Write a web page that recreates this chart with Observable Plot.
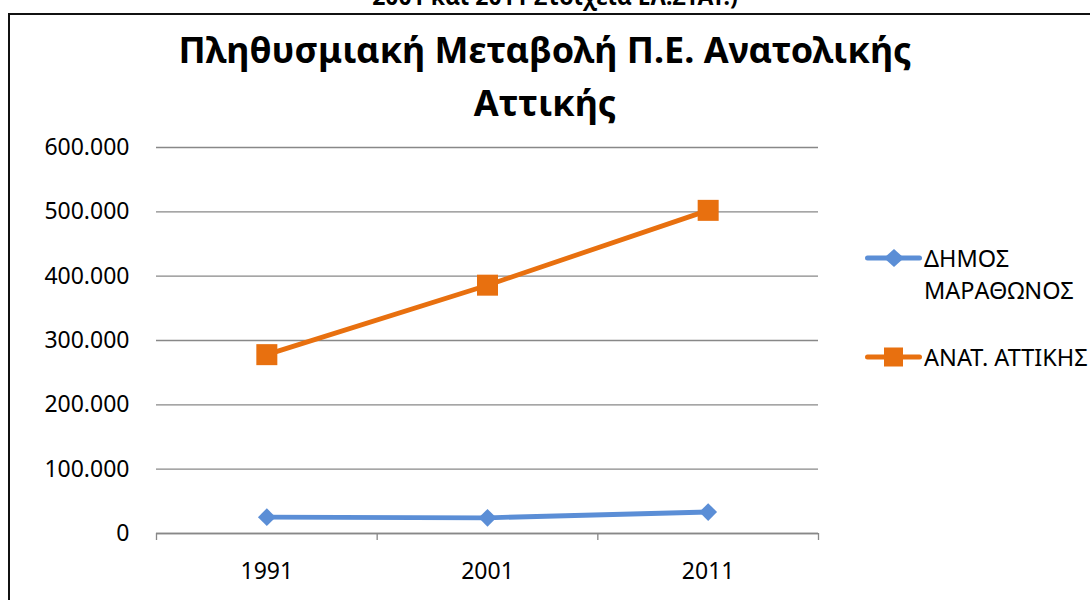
<!DOCTYPE html>
<html>
<head>
<meta charset="utf-8">
<script src="https://cdn.jsdelivr.net/npm/d3@7"></script>
<script src="https://cdn.jsdelivr.net/npm/@observablehq/plot@0.6"></script>
<style>
  html, body { margin: 0; padding: 0; background: #fff; }
  #wrap { position: relative; width: 1090px; height: 600px; overflow: hidden; font-family: "Noto Sans", sans-serif; color: #000; }
  #frame { position: absolute; left: 8px; top: 13px; width: 1200px; height: 700px; border: 2px solid #111; box-sizing: border-box; }
  #cut { position: absolute; left: 0; width: 1110px; top: -15px; text-align: center; font-weight: bold; font-size: 23px; line-height: 22px; }
  #title { position: absolute; left: 0; width: 1090px; top: 23px; text-align: center; font-weight: bold; font-size: 36px; line-height: 53px; }
  #chart { position: absolute; left: 0; top: 0; }
  .leg { position: absolute; left: 865px; }
  .leg svg { position: absolute; left: 0; top: 0; overflow: visible; }
  .leg span { position: absolute; left: 59px; font-size: 23.5px; line-height: 32px; white-space: nowrap; }
</style>
</head>
<body>
<div id="wrap">
  <div id="cut">2001 και 2011 Στοιχεία ΕΛ.ΣΤΑΤ.)</div>
  <div id="frame"></div>
  <div id="title">Πληθυσμιακή Μεταβολή Π.Ε. Ανατολικής<br>Αττικής</div>
  <div id="chart"></div>
  <div id="legend"></div>
</div>
<script>
// ---- data ----
const years = [1991, 2001, 2011];
const seriesNames = ["ΔΗΜΟΣ ΜΑΡΑΘΩΝΟΣ", "ΑΝΑΤ. ΑΤΤΙΚΗΣ"];
const dimosMarathonos = [25300, 24400, 33400];
const anatAttikis = [278000, 386000, 502300];
const yTicks = [0, 100000, 200000, 300000, 400000, 500000, 600000];
const colors = ["#5B8ED6", "#E8700F"];

const fmt = d3.formatLocale({decimal: ",", thousands: ".", grouping: [3], currency: ["", "€"]}).format(",d");

const rows1 = years.map((y, i) => ({year: y, value: dimosMarathonos[i]}));
const rows2 = years.map((y, i) => ({year: y, value: anatAttikis[i]}));
const halfStep = (years[1] - years[0]) / 2;
const boundaries = [years[0] - halfStep, ...years.map(y => y + halfStep)];

const chart = Plot.plot({
  width: 1090,
  height: 600,
  marginLeft: 156,
  marginRight: 272,
  marginTop: 147,
  marginBottom: 67,
  style: {fontFamily: "'Noto Sans', sans-serif", fontSize: "23px", color: "#000", background: "transparent", overflow: "visible"},
  x: {type: "linear", domain: [boundaries[0], boundaries[boundaries.length - 1]], label: null},
  y: {domain: [yTicks[0], yTicks[yTicks.length - 1]], label: null},
  marks: [
    Plot.gridY(yTicks, {stroke: "#888", strokeOpacity: 1, strokeWidth: 1.3}),
    Plot.axisY(yTicks, {tickSize: 0, tickPadding: 27, tickFormat: fmt, fontSize: 23, label: null}),
    Plot.axisX(boundaries, {tickSize: 7, tickFormat: () => "", stroke: "#888", strokeWidth: 1.3, label: null}),
    Plot.axisX(years, {tickSize: 0, tickPadding: 29, tickFormat: d => String(d), fontSize: 23, label: null}),
    Plot.ruleY([0], {stroke: "#888", strokeWidth: 1.3}),
    Plot.line(rows1, {x: "year", y: "value", stroke: colors[0], strokeWidth: 4.8}),
    Plot.dot(rows1, {x: "year", y: "value", symbol: "diamond2", r: 8, fill: colors[0], stroke: "none"}),
    Plot.line(rows2, {x: "year", y: "value", stroke: colors[1], strokeWidth: 4.8}),
    Plot.dot(rows2, {x: "year", y: "value", symbol: "square", r: 11.85, fill: colors[1], stroke: "none"})
  ]
});
document.getElementById("chart").appendChild(chart);

// ---- legend ----
const legend = document.getElementById("legend");
const legItems = [
  {top: 242, lines: ["ΔΗΜΟΣ", "ΜΑΡΑΘΩΝΟΣ"], color: colors[0], marker: "diamond"},
  {top: 341, lines: [seriesNames[1]], color: colors[1], marker: "square"}
];
legItems.forEach(it => {
  const d = document.createElement("div");
  d.className = "leg";
  d.style.top = it.top + "px";
  const mk = it.marker === "diamond"
    ? `<path d="M29,7 L39,16 L29,25 L19,16 Z" fill="${it.color}"/>`
    : `<rect x="19" y="6.5" width="19" height="19" fill="${it.color}"/>`;
  d.innerHTML = `<svg width="56" height="32"><line x1="2.5" y1="16" x2="54.5" y2="16" stroke="${it.color}" stroke-width="5" stroke-linecap="round"/>${mk}</svg>` +
    it.lines.map((t, i) => `<span style="top:${i * 32}px">${t}</span>`).join("");
  legend.appendChild(d);
});
</script>
</body>
</html>
